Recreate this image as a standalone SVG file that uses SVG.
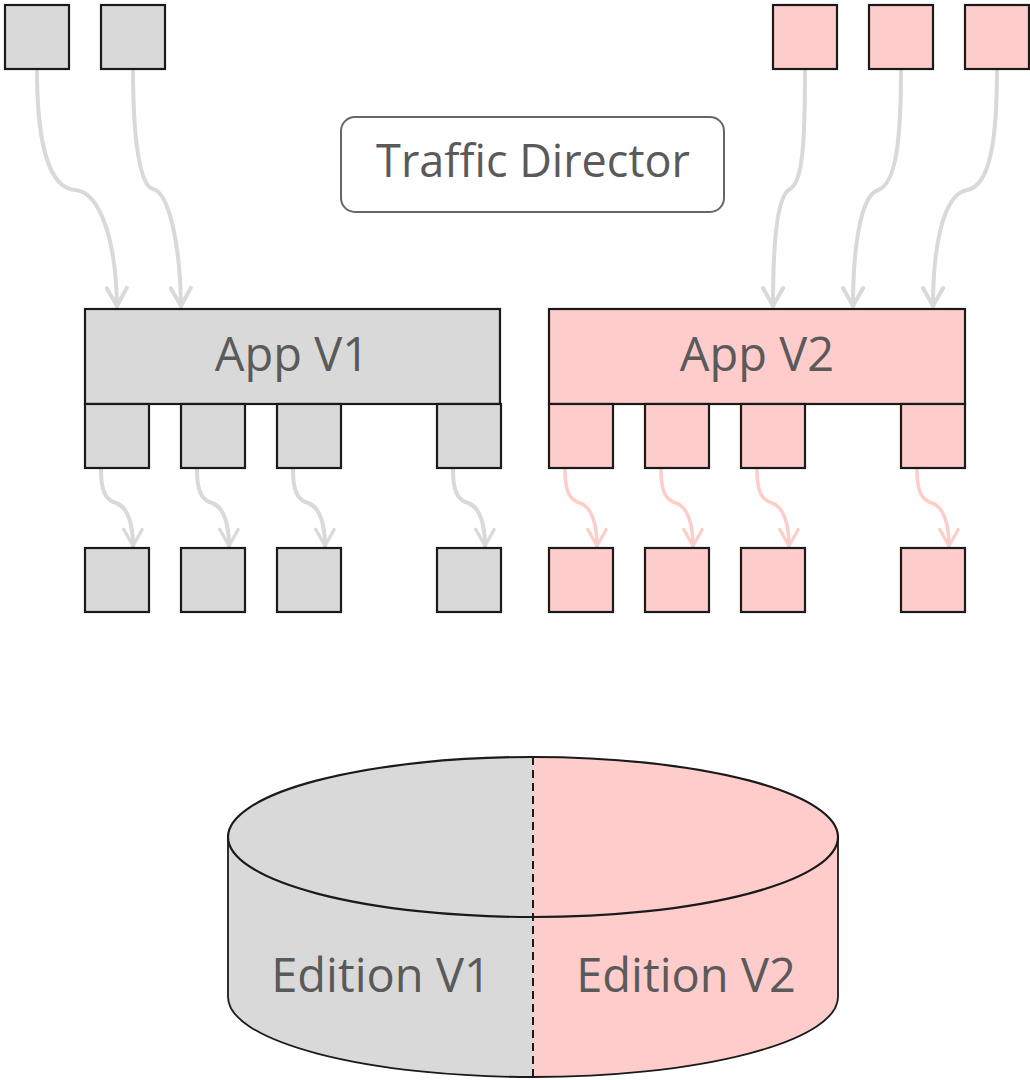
<svg xmlns="http://www.w3.org/2000/svg" width="1030" height="1080" viewBox="0 0 1030 1080">
<style>
.g{fill:#d9d9d9;stroke:#1a1a1a;stroke-width:2.2}
.p{fill:#ffcccc;stroke:#1a1a1a;stroke-width:2.2}
.t{font-family:"Open Sans","Liberation Sans",sans-serif;font-size:47px;fill:#5a5a5a;text-anchor:middle}
.cg{fill:none;stroke:#d9d9d9;stroke-width:4;stroke-linecap:round}
.cp{fill:none;stroke:#ffcccc;stroke-width:3.5;stroke-linecap:round}
</style>
<defs>
<marker id="ag" viewBox="0 0 24 24" refX="21" refY="12" markerWidth="24" markerHeight="24" markerUnits="userSpaceOnUse" orient="auto">
<path d="M3,2 L21,12 L3,22" fill="none" stroke="#d9d9d9" stroke-width="4" stroke-linecap="round" stroke-linejoin="round"/>
</marker>
<marker id="ap" viewBox="0 0 24 24" refX="21" refY="12" markerWidth="22" markerHeight="22" markerUnits="userSpaceOnUse" orient="auto">
<path d="M3,2 L21,12 L3,22" fill="none" stroke="#ffcccc" stroke-width="3.5" stroke-linecap="round" stroke-linejoin="round"/>
</marker>
<marker id="as" viewBox="0 0 24 24" refX="21" refY="12" markerWidth="22" markerHeight="22" markerUnits="userSpaceOnUse" orient="auto">
<path d="M3,2 L21,12 L3,22" fill="none" stroke="#d9d9d9" stroke-width="3.5" stroke-linecap="round" stroke-linejoin="round"/>
</marker>
</defs>
<rect width="1030" height="1080" fill="#fff"/>
<g id="connectors">
<path class="cg" marker-end="url(#ag)" d="M37,70 C37,140 48,188 75,190 C100,192 116,240 117,306"/>
<path class="cg" marker-end="url(#ag)" d="M133,70 C133,140 140,186 153,189 C168,192 180,240 181,306"/>
<path class="cg" marker-end="url(#ag)" d="M805,70 C805,140 803,182 790,189 C776,196 773,250 773,306"/>
<path class="cg" marker-end="url(#ag)" d="M901,70 C901,140 896,184 878,190 C860,196 853,250 853,306"/>
<path class="cg" marker-end="url(#ag)" d="M997,70 C997,140 990,186 967,190 C942,195 933,250 933,306"/>
<path class="cg" marker-end="url(#as)" d="M101,470 C101,492 106,500 116,503 C128,507 133,525 133,546"/>
<path class="cg" marker-end="url(#as)" d="M197,470 C197,492 202,500 212,503 C224,507 229,525 229,546"/>
<path class="cg" marker-end="url(#as)" d="M293,470 C293,492 298,500 308,503 C320,507 325,525 325,546"/>
<path class="cg" marker-end="url(#as)" d="M453,470 C453,492 458,500 468,503 C480,507 485,525 485,546"/>
<path class="cp" marker-end="url(#ap)" d="M565,470 C565,492 570,500 580,503 C592,507 597,525 597,546"/>
<path class="cp" marker-end="url(#ap)" d="M661,470 C661,492 666,500 676,503 C688,507 693,525 693,546"/>
<path class="cp" marker-end="url(#ap)" d="M757,470 C757,492 762,500 772,503 C784,507 789,525 789,546"/>
<path class="cp" marker-end="url(#ap)" d="M917,470 C917,492 922,500 932,503 C944,507 949,525 949,546"/>
</g>
<g id="client-g1"><rect class="g" x="5" y="5" width="64" height="64"/></g>
<g id="client-g2"><rect class="g" x="101" y="5" width="64" height="64"/></g>
<g id="client-p1"><rect class="p" x="773" y="5" width="64" height="64"/></g>
<g id="client-p2"><rect class="p" x="869" y="5" width="64" height="64"/></g>
<g id="client-p3"><rect class="p" x="965" y="5" width="64" height="64"/></g>
<g id="traffic-director">
<rect x="341" y="117" width="383" height="95" rx="14" fill="#fff" stroke="#666" stroke-width="2"/>
<text class="t" x="533" y="177" style="font-size:45px">Traffic Director</text>
</g>
<g id="app-v1">
<rect class="g" x="85" y="309" width="415" height="95"/>
<text class="t" x="292" y="371">App V1</text>
<rect class="g" x="85" y="404" width="64" height="64"/>
<rect class="g" x="181" y="404" width="64" height="64"/>
<rect class="g" x="277" y="404" width="64" height="64"/>
<rect class="g" x="437" y="404" width="64" height="64"/>
</g>
<g id="app-v2">
<rect class="p" x="549" y="309" width="416" height="95"/>
<text class="t" x="757" y="371">App V2</text>
<rect class="p" x="549" y="404" width="64" height="64"/>
<rect class="p" x="645" y="404" width="64" height="64"/>
<rect class="p" x="741" y="404" width="64" height="64"/>
<rect class="p" x="901" y="404" width="64" height="64"/>
</g>
<g id="backends-v1">
<rect class="g" x="85" y="548" width="64" height="64"/>
<rect class="g" x="181" y="548" width="64" height="64"/>
<rect class="g" x="277" y="548" width="64" height="64"/>
<rect class="g" x="437" y="548" width="64" height="64"/>
</g>
<g id="backends-v2">
<rect class="p" x="549" y="548" width="64" height="64"/>
<rect class="p" x="645" y="548" width="64" height="64"/>
<rect class="p" x="741" y="548" width="64" height="64"/>
<rect class="p" x="901" y="548" width="64" height="64"/>
</g>
<g id="database">
<path d="M533,757 A305,80 0 0 0 228,837 L228,997 A305,80 0 0 0 533,1077 Z" fill="#d9d9d9"/>
<path d="M533,757 A305,80 0 0 1 838,837 L838,997 A305,80 0 0 1 533,1077 Z" fill="#ffcccc"/>
<ellipse cx="533" cy="837" rx="305" ry="80" fill="none" stroke="#1a1a1a" stroke-width="2.2"/>
<path d="M228,837 L228,997 A305,80 0 0 0 838,997 L838,837" fill="none" stroke="#1a1a1a" stroke-width="1.8"/>
<line x1="533" y1="757" x2="533" y2="1077" stroke="#1a1a1a" stroke-width="2" stroke-dasharray="8,5"/>
<text class="t" x="381" y="992">Edition V1</text>
<text class="t" x="686" y="992">Edition V2</text>
</g>
</svg>
